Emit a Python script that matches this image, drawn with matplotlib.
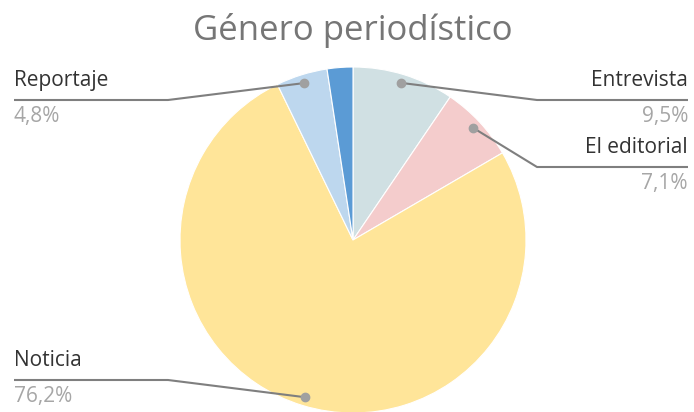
import matplotlib
matplotlib.use("Agg")
import matplotlib.pyplot as plt
import numpy as np

# Datos del grafico (porcentajes)
categorias = ["Entrevista", "El editorial", "Noticia", "Reportaje", "Otros"]
valores = [9.5, 7.1, 76.2, 4.8, 2.4]
colores = ["#D0E0E3", "#F4CCCC", "#FFE599", "#BDD7EE", "#5B9BD5"]
mostrar = [True, True, True, True, False]

plt.rcParams['font.family'] = ['Open Sans', 'DejaVu Sans']

W, H = 694, 412
fig = plt.figure(figsize=(W / 100, H / 100), dpi=100)
ax = fig.add_axes([0, 0, 1, 1])

cx, cy, r = 353, H - 240, 173
wedges, _ = ax.pie(valores, colors=colores, startangle=90, counterclock=False,
                   center=(cx, cy), radius=r,
                   wedgeprops=dict(edgecolor="white", linewidth=0.8))
ax.set_xlim(0, W)
ax.set_ylim(0, H)
ax.set_aspect("equal")
ax.axis("off")

# posicion de la linea horizontal de cada etiqueta (pixeles desde arriba)
lineas = {"Entrevista": ("right", 100), "El editorial": ("right", 167),
          "Noticia": ("left", 380), "Reportaje": ("left", 100)}

for w, cat, val, ok in zip(wedges, categorias, valores, mostrar):
    if not ok:
        continue
    ang = np.deg2rad((w.theta1 + w.theta2) / 2)
    px = cx + 0.95 * r * np.cos(ang)
    py = cy + 0.95 * r * np.sin(ang)
    lado, ly = lineas[cat]
    ly = H - ly
    if lado == "right":
        codo, fin, ha = 537, 688, "right"
    else:
        codo, fin, ha = 168, 14, "left"
    ax.plot([px, codo, fin], [py, ly, ly], color="#7F7F7F", lw=1.5,
            solid_capstyle="butt", zorder=3)
    ax.plot(px, py, "o", color="#A0A0A0", ms=6, zorder=4)
    ax.text(fin, ly + 14, cat, ha=ha, va="baseline", fontsize=15, color="#333333")
    pct = f"{val:.1f}".replace(".", ",") + "%"
    ax.text(fin, ly - 6, pct, ha=ha, va="top", fontsize=15, color="#A6A6A6")

ax.text(353, H - 40, "Género periodístico", ha="center", va="baseline",
        fontsize=25, color="#767676")

fig.savefig("out.png", dpi=100)
